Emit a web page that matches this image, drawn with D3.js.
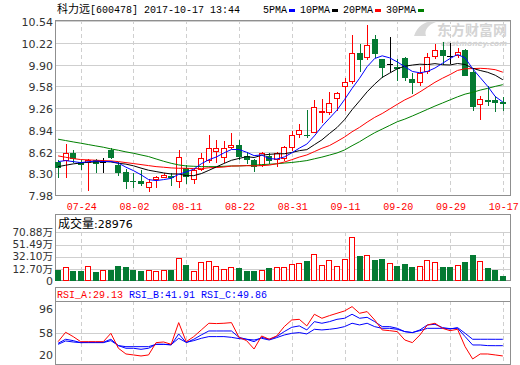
<!DOCTYPE html>
<html><head><meta charset="utf-8">
<script src="https://cdn.jsdelivr.net/npm/d3@7"></script>
<style>body{margin:0;background:#fff}svg{display:block}</style>
</head><body>
<svg id="c" width="520" height="365"></svg>
<script>
// ---------- DATA ----------
const dates = ["07-19","07-20","07-21","07-24","07-25","07-26","07-27","07-28","07-31","08-01",
"08-02","08-03","08-04","08-07","08-08","08-09","08-10","08-11","08-14","08-15",
"08-16","08-17","08-18","08-21","08-22","08-23","08-24","08-25","08-28","08-29",
"08-30","08-31","09-01","09-04","09-05","09-06","09-07","09-08","09-11","09-12",
"09-13","09-14","09-15","09-18","09-19","09-20","09-21","09-22","09-25","09-26",
"09-27","09-28","09-29","10-09","10-10","10-11","10-12","10-13","10-16","10-17"];
const tickLabels = ["07-24","08-02","08-11","08-22","08-31","09-11","09-20","09-29","10-17"];
const openP  = [8.46,8.50,8.60,8.46,8.47,8.50,8.46,8.64,8.42,8.32,8.19,8.18,8.10,8.21,8.25,8.26,8.18,8.38,8.21,8.37,
8.50,8.63,8.54,8.68,8.72,8.55,8.50,8.42,8.56,8.51,8.52,8.69,8.88,8.87,8.91,9.20,9.20,9.41,9.58,9.66,
10.07,10.01,10.28,9.98,9.91,9.87,10.00,9.69,9.64,9.80,10.03,10.11,10.03,10.04,10.11,9.79,9.32,9.38,9.38,9.35];
const highP  = [8.50,8.73,8.64,8.50,8.51,8.51,8.52,8.67,8.47,8.36,8.30,8.35,8.22,8.26,8.31,8.30,8.64,8.42,8.37,8.60,
8.87,8.79,8.77,8.89,8.79,8.62,8.51,8.62,8.60,8.62,8.70,8.93,9.03,9.23,9.38,9.39,9.50,9.50,9.70,10.33,
10.20,10.49,10.34,9.98,10.31,9.98,10.01,9.78,9.87,10.07,10.20,10.23,10.22,10.15,10.13,9.83,9.44,9.58,9.44,9.42];
const lowP   = [8.25,8.24,8.47,8.37,8.05,8.32,8.32,8.52,8.27,8.09,8.10,8.13,8.04,8.10,8.24,8.13,8.10,8.16,8.15,8.35,
8.47,8.47,8.47,8.67,8.51,8.45,8.34,8.40,8.45,8.40,8.50,8.64,8.84,8.84,8.91,9.06,9.18,9.23,9.23,9.63,
9.81,9.98,10.01,9.72,9.80,9.68,9.68,9.48,9.60,9.77,10.00,9.91,9.92,10.02,9.75,9.23,9.10,9.31,9.21,9.23];
const closeP = [8.39,8.60,8.53,8.43,8.50,8.45,8.46,8.54,8.32,8.19,8.18,8.15,8.17,8.25,8.28,8.24,8.54,8.26,8.35,8.52,
8.67,8.67,8.67,8.72,8.55,8.51,8.41,8.60,8.49,8.60,8.68,8.86,8.94,8.86,9.27,9.22,9.33,9.48,9.65,10.07,
9.98,10.19,10.07,9.86,9.91,9.85,9.72,9.64,9.78,10.01,10.12,10.04,10.03,10.08,9.75,9.29,9.40,9.37,9.35,9.34];
const ma5  = [8.472,8.487,8.472,8.457,8.470,8.480,8.473,8.474,8.450,8.390,8.339,8.278,8.207,8.192,8.207,8.225,8.285,8.320,8.360,8.440,
8.500,8.540,8.600,8.650,8.650,8.610,8.560,8.570,8.515,8.510,8.540,8.600,8.670,8.730,8.850,8.990,9.110,9.230,9.385,9.550,
9.700,9.870,9.990,10.030,10.000,9.940,9.870,9.800,9.780,9.800,9.850,9.920,9.990,10.050,10.000,9.840,9.710,9.580,9.430,9.350];
const ma10 = [8.398,8.418,8.438,8.452,8.462,8.467,8.472,8.467,8.447,8.435,8.410,8.376,8.345,8.325,8.305,8.290,8.290,8.265,8.265,8.295,
8.343,8.394,8.444,8.491,8.518,8.545,8.532,8.565,8.579,8.586,8.588,8.606,8.633,8.648,8.721,8.792,8.885,8.973,9.089,9.236,
9.366,9.500,9.613,9.712,9.776,9.839,9.877,9.894,9.907,9.901,9.915,9.899,9.895,9.917,9.902,9.846,9.814,9.787,9.744,9.678];
const ma20 = [8.556,8.536,8.516,8.502,8.497,8.492,8.487,8.482,8.472,8.457,8.443,8.428,8.413,8.398,8.389,8.379,8.374,8.374,8.369,8.368,
8.381,8.385,8.392,8.406,8.409,8.412,8.409,8.412,8.420,8.440,8.465,8.500,8.539,8.570,8.619,8.668,8.708,8.769,8.834,8.911,
8.977,9.053,9.123,9.180,9.248,9.316,9.381,9.433,9.498,9.569,9.640,9.700,9.754,9.815,9.839,9.842,9.846,9.840,9.826,9.789];
const ma30 = [8.802,8.782,8.762,8.743,8.723,8.703,8.684,8.659,8.639,8.615,8.595,8.570,8.546,8.511,8.477,8.447,8.423,8.408,8.403,8.398,
8.398,8.398,8.403,8.408,8.408,8.413,8.418,8.428,8.433,8.440,8.450,8.459,8.472,8.487,8.513,8.538,8.568,8.599,8.643,8.706,
8.765,8.833,8.897,8.951,9.005,9.059,9.098,9.144,9.192,9.241,9.290,9.335,9.381,9.426,9.466,9.492,9.525,9.551,9.580,9.605];
const volume = [11.6,15.9,10.5,10.5,17.9,8.9,11.6,12.0,17.9,16.3,12.0,10.5,11.6,10.5,11.6,12.0,30.5,19.5,10.0,24.2,
25.8,17.9,13.2,16.3,14.8,10.5,10.5,11.6,14.8,15.9,15.9,20.6,22.1,25.8,36.3,19.0,27.8,17.4,28.4,63.0,
33.6,34.7,27.3,28.9,22.1,17.9,21.0,16.3,17.9,26.9,24.2,16.3,16.3,19.0,24.2,35.2,25.3,14.3,11.6,2.9];
const rsiA = [46.9,58.6,53.2,46.9,46.9,46.9,46.9,57.3,38.7,31.6,30.4,29.1,30.4,45.7,46.5,43.6,70.6,46.9,53.2,61.5,
69.8,69.4,69.8,70.6,52.3,48.2,37.8,54.0,49.9,54.0,65.6,73.9,74.7,66.5,81.0,76.0,79.3,82.2,85.1,90.5,
82.2,84.3,73.9,61.5,60.6,59.4,49.0,45.7,55.2,67.7,69.8,63.5,60.6,62.3,40.7,25.4,31.6,31.6,30.4,29.13];
const rsiB = [44.9,49.9,48.2,45.7,46.1,46.1,46.1,49.9,42.0,38.7,38.7,37.4,38.7,43.6,43.6,42.8,56.5,45.7,49.9,55.3,
60.2,60.2,60.2,60.2,52.3,49.9,46.9,52.3,49.9,53.2,59.4,64.8,66.5,61.5,71.8,69.8,71.8,74.7,76.0,81.0,
76.0,77.2,71.8,65.6,65.6,63.5,59.4,58.2,61.5,67.7,68.5,64.4,63.1,63.5,53.2,42.8,42.8,42.0,41.9,41.91];
const rsiC = [43.6,47.8,46.5,45.7,45.7,45.7,45.7,48.2,42.0,40.7,40.7,40.7,40.7,43.6,43.6,43.2,51.1,46.1,48.2,51.1,
53.2,53.2,53.2,52.3,50.7,49.9,49.0,51.1,49.0,51.9,55.2,57.3,58.2,56.5,62.3,61.5,62.3,63.5,65.6,69.8,
67.7,69.8,65.6,63.5,63.5,62.3,59.4,58.2,60.6,63.5,63.5,63.5,62.7,64.4,57.3,49.9,49.9,49.9,49.86,49.86];
const priceTicks = [10.54,10.22,9.90,9.58,9.26,8.94,8.62,8.30,7.98];
const volTicks = [70.88,51.49,32.10,12.70];
const volTickLabels = ["70.88万","51.49万","32.10万","12.70万"];
const rsiTicks = [96,58,20];
const title = ["科力远","[600478] 2017-10-17 13:44"];
const legendNames = ["5PMA","10PMA","20PMA","30PMA"];
const volTitle = ["成交量",":28976"];
const rsiNames = ["RSI_A","RSI_B","RSI_C"];

// ---------- STYLE ----------
const RED="#ff0000", GREEN="#047a33", BLUE="#0000ff", BLACK="#000000", MAGREEN="#008000";
const GRID="#cfcfcf", BORDER="#8f8f8f";
const SANS="'DejaVu Sans','Noto Sans CJK SC',sans-serif";
const MONO="'Liberation Mono','DejaVu Sans Mono',monospace";
const CJK="'Noto Sans CJK SC',sans-serif";

const svg = d3.select("#c");
const L=56, R=510;
const P={top:20, bot:195}, V={top:214, bot:280}, S={top:287, head:301, bot:364};

const x  = d3.scaleLinear().domain([0,59]).range([58.1,502.8]);
const px = i => Math.round(x(i));
const yP = d3.scaleLinear().domain([7.98,10.54]).range([195,21.2]);
const yV = d3.scaleLinear().domain([-4.1,70.88]).range([280,232.3]);
const yR = d3.scaleLinear().domain([20,96]).range([363.3,302.2]);
const tickIdx = tickLabels.map(t=>dates.indexOf(t));

// ---------- grids ----------
const g = svg.append("g");
g.selectAll(".hp").data(priceTicks).join("line")
 .attr("x1",L).attr("x2",R).attr("y1",d=>Math.round(yP(d))+0.5).attr("y2",d=>Math.round(yP(d))+0.5)
 .attr("stroke",GRID);
g.selectAll(".hv").data(volTicks).join("line")
 .attr("x1",L).attr("x2",R).attr("y1",d=>Math.round(yV(d))+0.5).attr("y2",d=>Math.round(yV(d))+0.5)
 .attr("stroke",GRID);
g.append("line").attr("x1",L).attr("x2",R).attr("y1",Math.round(yR(58))+0.5).attr("y2",Math.round(yR(58))+0.5).attr("stroke",GRID);
const vd = (y1,y2)=> g.selectAll(null).data(tickIdx).join("line")
 .attr("x1",d=>px(d)+0.5).attr("x2",d=>px(d)+0.5).attr("y1",y1).attr("y2",y2)
 .attr("stroke",GRID).attr("stroke-dasharray","4,3");
vd(P.top,P.bot); vd(Math.round(yV(70.88)),V.bot); vd(S.head,S.bot);

// watermark
svg.append("text").attr("x",437).attr("y",34.5).text("东方财富网")
 .attr("font-family",CJK).attr("font-size",14).attr("font-weight","bold").attr("fill","#d4d4d4");
svg.append("text").attr("x",441).attr("y",45.5).text("eastmoney.com")
 .attr("font-family",SANS).attr("font-size",7.5).attr("font-style","italic").attr("font-weight","bold").attr("fill","#d4d4d4");
svg.append("path").attr("d","M414,36 C418,24 428,20 436,22 C428,25 424,30 426,36 Z").attr("fill","#d8d8d8");

// ---------- panels ----------
[[P.top,P.bot],[V.top,V.bot],[S.top,S.bot]].forEach(([t,b])=>{
  svg.append("rect").attr("x",L-0.5).attr("y",t+0.5).attr("width",R-L+1).attr("height",b-t)
   .attr("fill","none").attr("stroke",BORDER);
});
svg.append("line").attr("x1",L).attr("x2",R+0.5).attr("y1",S.head+0.5).attr("y2",S.head+0.5).attr("stroke",BORDER);

// ---------- candles ----------
const idx = d3.range(dates.length);
const dirOf = i => closeP[i]>openP[i]?1:(closeP[i]<openP[i]?-1:0);
const colOf = i => {const d=dirOf(i); return d>0?RED:(d<0?GREEN:BLACK);};
const cg = svg.append("g").attr("shape-rendering","crispEdges");
idx.forEach(i=>{
  const r = px(i), c = colOf(i), d = dirOf(i);
  const yh = Math.round(yP(highP[i])), yl = Math.round(yP(lowP[i]));
  const yt = Math.round(yP(Math.max(openP[i],closeP[i]))), yb = Math.round(yP(Math.min(openP[i],closeP[i])));
  if (d>0 && yb-yt>=2){
    cg.append("line").attr("x1",r+0.5).attr("x2",r+0.5).attr("y1",yh).attr("y2",yt).attr("stroke",c);
    cg.append("line").attr("x1",r+0.5).attr("x2",r+0.5).attr("y1",yb+1).attr("y2",yl+1).attr("stroke",c);
    cg.append("rect").attr("x",r-2.5).attr("y",yt+0.5).attr("width",5).attr("height",yb-yt)
      .attr("fill","#fff").attr("stroke",c);
  } else {
    cg.append("line").attr("x1",r+0.5).attr("x2",r+0.5).attr("y1",yh).attr("y2",yl+1).attr("stroke",c);
    cg.append("rect").attr("x",r-3).attr("y",yt).attr("width",6).attr("height",Math.max(1,yb-yt+1)).attr("fill",c);
  }
});

// ---------- MA lines ----------
const lineP = d3.line().x((d,i)=>x(i)).y(d=>yP(d));
[[ma30,MAGREEN],[ma20,RED],[ma10,BLACK],[ma5,BLUE]].forEach(([arr,col])=>{
  svg.append("path").datum(arr).attr("d",lineP).attr("fill","none").attr("stroke",col).attr("stroke-width",1);
});

// ---------- volume ----------
const vg = svg.append("g").attr("shape-rendering","crispEdges");
idx.forEach(i=>{
  const r = px(i);
  const up = dirOf(i)>0 || (dirOf(i)===0 && closeP[i]>=closeP[i-1]);
  const top = Math.round(yV(volume[i]));
  if (up){
    vg.append("rect").attr("x",r-2.5).attr("y",top+0.5).attr("width",5).attr("height",V.bot-top-0.5)
      .attr("fill","#fff").attr("stroke",RED);
  } else {
    vg.append("rect").attr("x",r-3).attr("y",top).attr("width",6).attr("height",V.bot-top+1).attr("fill",GREEN);
  }
});

// ---------- RSI ----------
const lineR = d3.line().x((d,i)=>x(i)).y(d=>yR(d));
[[rsiC,BLUE],[rsiB,BLUE],[rsiA,RED]].forEach(([arr,col])=>{
  svg.append("path").datum(arr).attr("d",lineR).attr("fill","none").attr("stroke",col).attr("stroke-width",1);
});

// ---------- texts ----------
const t = svg.append("g");
const tt = t.append("text").attr("x",57).attr("y",13).attr("fill","#000");
tt.append("tspan").attr("font-family",CJK).attr("font-size",11).text(title[0]);
tt.append("tspan").attr("font-family",MONO).attr("font-size",10).text(title[1]);

const legCols=[BLUE,BLACK,RED,MAGREEN];
let lx = 263;
legendNames.forEach((n,k)=>{
  t.append("text").attr("x",lx).attr("y",13).attr("font-family",MONO).attr("font-size",10).attr("fill","#000").text(n);
  const w = n.length*6;
  t.append("rect").attr("x",lx+w+2).attr("y",9).attr("width",6).attr("height",3).attr("fill",legCols[k]);
  lx += w+2+6+5;
});

t.selectAll(".pl").data(priceTicks).join("text")
 .attr("x",53).attr("y",d=>yP(d)+1).attr("dy","0.36em").attr("text-anchor","end")
 .attr("font-family",SANS).attr("font-size",11).attr("fill","#333").text(d=>d.toFixed(2));
t.selectAll(".vl").data(volTicks).join("text")
 .attr("x",53).attr("y",d=>yV(d)-0.5).attr("dy","0.36em").attr("text-anchor","end")
 .attr("font-family",SANS).attr("font-size",10.5).attr("fill","#333").text((d,k)=>volTickLabels[k]);
t.append("text").attr("x",53).attr("y",yV(-4.1)+1).attr("dy","0.36em").attr("text-anchor","end")
 .attr("font-family",SANS).attr("font-size",11).attr("fill","#333").text("0");
const rOff = [7,0.5,-8];
t.selectAll(".rl").data(rsiTicks).join("text")
 .attr("x",53).attr("y",(d,k)=>yR(d)+rOff[k]).attr("dy","0.36em").attr("text-anchor","end")
 .attr("font-family",SANS).attr("font-size",11).attr("fill","#333").text(d=>d);

t.selectAll(".dl").data(tickIdx).join("text")
 .attr("x",d=>x(d)+1).attr("y",209.5).attr("text-anchor","middle")
 .attr("font-family",MONO).attr("font-size",10).attr("fill",RED).text(d=>dates[d]);

const vt = t.append("text").attr("x",58).attr("y",228).attr("fill","#000");
vt.append("tspan").attr("font-family",CJK).attr("font-size",12).text(volTitle[0]);
vt.append("tspan").attr("font-family",SANS).attr("font-size",11).text(volTitle[1]);

const rv = [rsiA[59],rsiB[59],rsiC[59]], rc=[RED,BLUE,BLUE];
const rt = t.append("text").attr("x",57).attr("y",298).attr("font-family",MONO).attr("font-size",10);
rsiNames.forEach((n,k)=>{
  rt.append("tspan").attr("fill",rc[k]).text((k?" ":"")+n+":"+rv[k].toFixed(2));
});
</script>
</body></html>
